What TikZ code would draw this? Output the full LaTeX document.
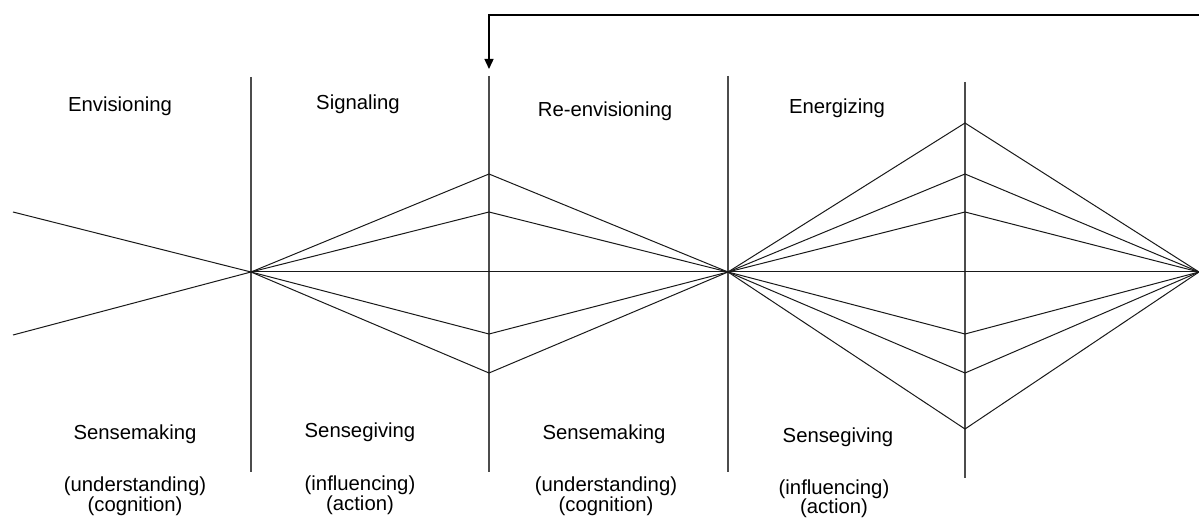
\documentclass[tikz,border=0pt]{standalone}
\usepackage{fontspec}
\setmainfont{Liberation Sans}
\usetikzlibrary{arrows.meta}
\begin{document}
\begin{tikzpicture}[x=1pt,y=-1pt,
  ray/.style={line width=1pt,black!90},
  divider/.style={line width=1.2pt,black!70},
  feedback/.style={line width=1.4pt,black,-{Triangle[length=10pt,width=9pt]}},
  lbl/.style={anchor=base,inner sep=0pt,font=\fontsize{20.3}{24}\selectfont}]
\useasboundingbox (0,0) rectangle (1199,518);

% convergence points on the horizon
\coordinate (P1) at (251,272);
\coordinate (P2) at (728,272);
\coordinate (P3) at (1199,272);

% open ends on the left
\coordinate (L1) at (13,212);
\coordinate (L2) at (13,335);

% spread points on the second divider
\coordinate (A1) at (489,174);
\coordinate (A2) at (489,212);
\coordinate (A3) at (489,334);
\coordinate (A4) at (489,373);

% spread points on the fourth divider
\coordinate (B1) at (965,123);
\coordinate (B2) at (965,174);
\coordinate (B3) at (965,212);
\coordinate (B4) at (965,334);
\coordinate (B5) at (965,373);
\coordinate (B6) at (965,429);

% dividers
\coordinate (V1t) at (251,77);  \coordinate (V1b) at (251,472);
\coordinate (V2t) at (489,76);  \coordinate (V2b) at (489,472);
\coordinate (V3t) at (728,76);  \coordinate (V3b) at (728,472);
\coordinate (V4t) at (965,82);  \coordinate (V4b) at (965,478);
\draw[divider] (V1t) -- (V1b);
\draw[divider] (V2t) -- (V2b);
\draw[divider] (V3t) -- (V3b);
\draw[divider] (V4t) -- (V4b);

% feedback loop back into the third phase
\coordinate (F0) at (1199,15);
\coordinate (F1) at (489,15);
\coordinate (F2) at (489,69);
\draw[feedback] (F0) -- (F1) -- (F2);

% horizon
\draw[ray] (P1) -- (P3);

% narrowing into the first point
\draw[ray] (L1) -- (P1);
\draw[ray] (L2) -- (P1);

% first diamond
\foreach \p in {A1,A2,A3,A4}{
  \draw[ray] (P1) -- (\p) -- (P2);
}

% second diamond
\foreach \p in {B1,B2,B3,B4,B5,B6}{
  \draw[ray] (P2) -- (\p) -- (P3);
}

% phase names
\node[lbl] (t1) at (120,112) {Envisioning};
\node[lbl] (t2) at (358,110) {Signaling};
\node[lbl] (t3) at (605,117) {Re-envisioning};
\node[lbl] (t4) at (837,114) {Energizing};

% modes
\node[lbl] (m1) at (135,439) {Sensemaking};
\node[lbl] (m2) at (360,437) {Sensegiving};
\node[lbl] (m3) at (604,439) {Sensemaking};
\node[lbl] (m4) at (838,442) {Sensegiving};

% descriptions
\node[lbl] (d1a) at (135,491) {(understanding)};
\node[lbl] (d1b) at (135,511) {(cognition)};
\node[lbl] (d2a) at (360,490) {(influencing)};
\node[lbl] (d2b) at (360,510) {(action)};
\node[lbl] (d3a) at (606,491) {(understanding)};
\node[lbl] (d3b) at (606,511) {(cognition)};
\node[lbl] (d4a) at (834,494) {(influencing)};
\node[lbl] (d4b) at (834,513) {(action)};
\end{tikzpicture}
\end{document}
